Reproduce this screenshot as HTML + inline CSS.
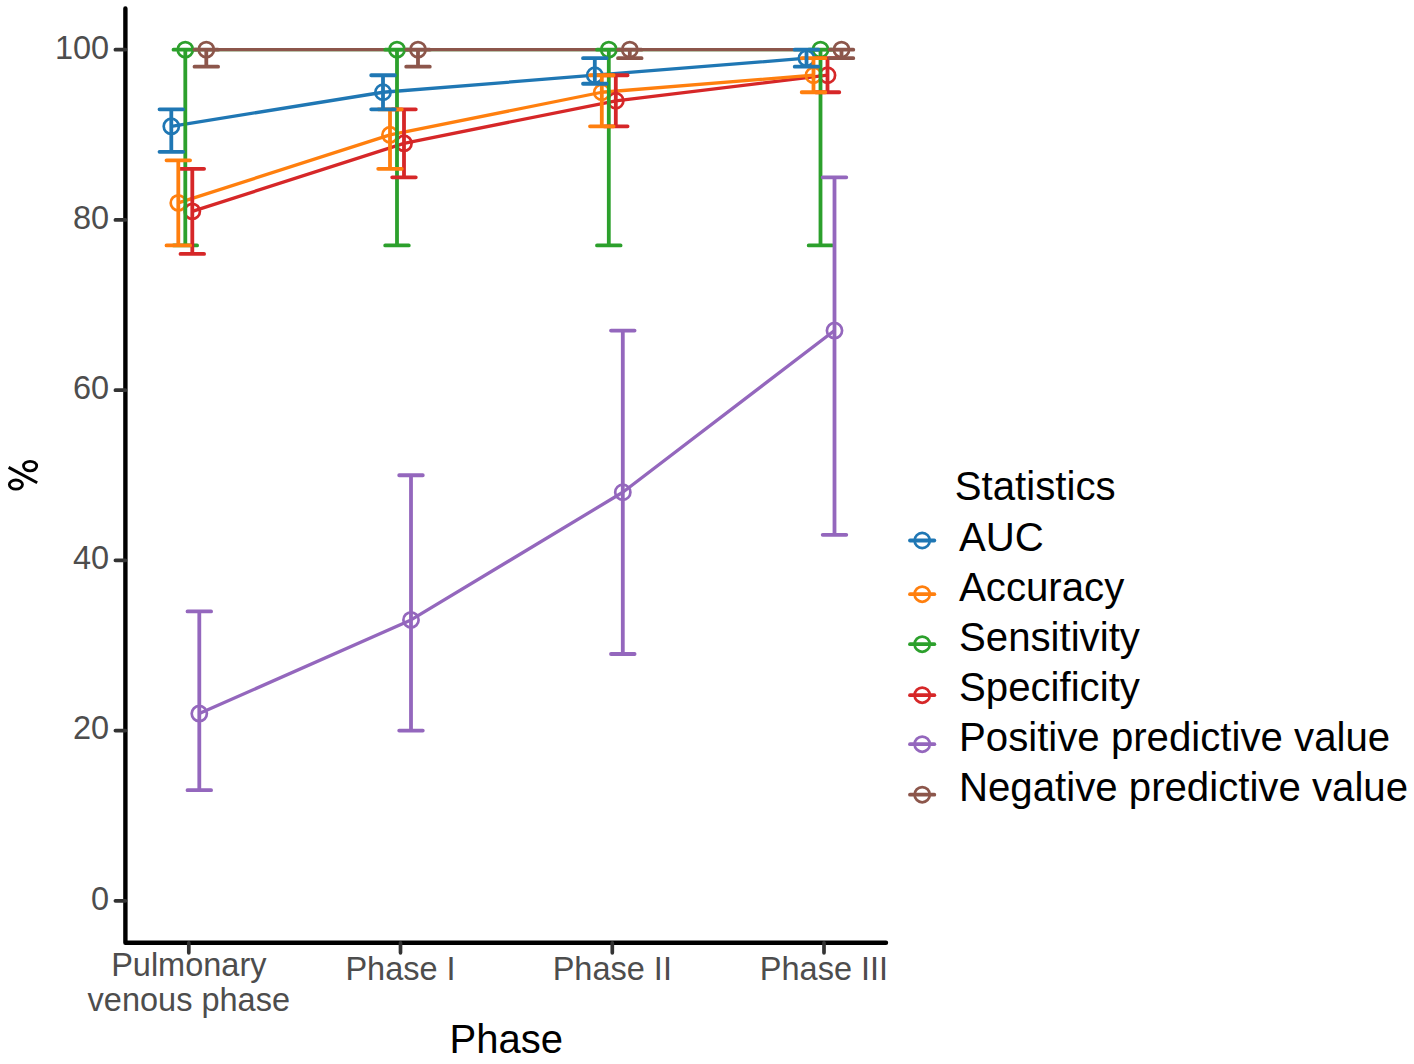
<!DOCTYPE html>
<html><head><meta charset="utf-8"><style>
html,body{margin:0;padding:0;background:#fff;}
body{width:1414px;height:1064px;overflow:hidden;}
svg{display:block;}
text{font-family:"Liberation Sans",sans-serif;}
.tk{font-size:32.5px;fill:#4D4D4D;}
.ti{font-size:40px;fill:#000;}
.lt{font-size:40.2px;fill:#000;}
.ll{font-size:40.2px;fill:#000;}
</style></head><body>
<svg width="1414" height="1064" viewBox="0 0 1414 1064">
<rect width="1414" height="1064" fill="#fff"/>
<g>
<path d="M125.4 8.5V942.8H886" fill="none" stroke="#000" stroke-width="4.4" stroke-linecap="round" stroke-linejoin="round"/>
<path d="M115.4 900.8H125.4M115.4 730.58H125.4M115.4 560.36H125.4M115.4 390.14H125.4M115.4 219.92H125.4M115.4 49.7H125.4M188.8 942.8V952.8M400.5 942.8V952.8M612.3 942.8V952.8M824 942.8V952.8" fill="none" stroke="#333" stroke-width="3.7" stroke-linecap="round"/>
<polyline points="185.3,49.7 397,49.7 608.8,49.7 820.5,49.7" fill="none" stroke="#2CA02C" stroke-width="3.3" stroke-linejoin="round" stroke-linecap="butt"/>
<polyline points="192.3,211.41 404,143.32 615.8,100.77 827.5,75.23" fill="none" stroke="#D62728" stroke-width="3.3" stroke-linejoin="round" stroke-linecap="butt"/>
<polyline points="199.3,713.56 411,619.94 622.8,492.27 834.5,330.56" fill="none" stroke="#9467BD" stroke-width="3.3" stroke-linejoin="round" stroke-linecap="butt"/>
<polyline points="206.3,49.7 418,49.7 629.8,49.7 841.5,49.7" fill="none" stroke="#8C564B" stroke-width="3.3" stroke-linejoin="round" stroke-linecap="butt"/>
<polyline points="178.3,202.9 390,134.81 601.8,92.25 813.5,75.23" fill="none" stroke="#FF7F0E" stroke-width="3.3" stroke-linejoin="round" stroke-linecap="butt"/>
<polyline points="171.3,126.3 383,92.25 594.8,75.23 806.5,58.21" fill="none" stroke="#1F77B4" stroke-width="3.3" stroke-linejoin="round" stroke-linecap="butt"/>
<circle cx="185.3" cy="49.7" r="7.6" fill="none" stroke="#2CA02C" stroke-width="2.7"/>
<circle cx="397" cy="49.7" r="7.6" fill="none" stroke="#2CA02C" stroke-width="2.7"/>
<circle cx="608.8" cy="49.7" r="7.6" fill="none" stroke="#2CA02C" stroke-width="2.7"/>
<circle cx="820.5" cy="49.7" r="7.6" fill="none" stroke="#2CA02C" stroke-width="2.7"/>
<circle cx="192.3" cy="211.41" r="7.6" fill="none" stroke="#D62728" stroke-width="2.7"/>
<circle cx="404" cy="143.32" r="7.6" fill="none" stroke="#D62728" stroke-width="2.7"/>
<circle cx="615.8" cy="100.77" r="7.6" fill="none" stroke="#D62728" stroke-width="2.7"/>
<circle cx="827.5" cy="75.23" r="7.6" fill="none" stroke="#D62728" stroke-width="2.7"/>
<circle cx="199.3" cy="713.56" r="7.6" fill="none" stroke="#9467BD" stroke-width="2.7"/>
<circle cx="411" cy="619.94" r="7.6" fill="none" stroke="#9467BD" stroke-width="2.7"/>
<circle cx="622.8" cy="492.27" r="7.6" fill="none" stroke="#9467BD" stroke-width="2.7"/>
<circle cx="834.5" cy="330.56" r="7.6" fill="none" stroke="#9467BD" stroke-width="2.7"/>
<circle cx="206.3" cy="49.7" r="7.6" fill="none" stroke="#8C564B" stroke-width="2.7"/>
<circle cx="418" cy="49.7" r="7.6" fill="none" stroke="#8C564B" stroke-width="2.7"/>
<circle cx="629.8" cy="49.7" r="7.6" fill="none" stroke="#8C564B" stroke-width="2.7"/>
<circle cx="841.5" cy="49.7" r="7.6" fill="none" stroke="#8C564B" stroke-width="2.7"/>
<circle cx="178.3" cy="202.9" r="7.6" fill="none" stroke="#FF7F0E" stroke-width="2.7"/>
<circle cx="390" cy="134.81" r="7.6" fill="none" stroke="#FF7F0E" stroke-width="2.7"/>
<circle cx="601.8" cy="92.25" r="7.6" fill="none" stroke="#FF7F0E" stroke-width="2.7"/>
<circle cx="813.5" cy="75.23" r="7.6" fill="none" stroke="#FF7F0E" stroke-width="2.7"/>
<circle cx="171.3" cy="126.3" r="7.6" fill="none" stroke="#1F77B4" stroke-width="2.7"/>
<circle cx="383" cy="92.25" r="7.6" fill="none" stroke="#1F77B4" stroke-width="2.7"/>
<circle cx="594.8" cy="75.23" r="7.6" fill="none" stroke="#1F77B4" stroke-width="2.7"/>
<circle cx="806.5" cy="58.21" r="7.6" fill="none" stroke="#1F77B4" stroke-width="2.7"/>
<path d="M173.5 49.7H197.1M185.3 49.7V245.45M173.5 245.45H197.1M385.2 49.7H408.8M397 49.7V245.45M385.2 245.45H408.8M597 49.7H620.6M608.8 49.7V245.45M597 245.45H620.6M808.7 49.7H832.3M820.5 49.7V245.45M808.7 245.45H832.3" fill="none" stroke="#2CA02C" stroke-width="3.8" stroke-linecap="round" stroke-linejoin="round"/>
<path d="M180.5 168.85H204.1M192.3 168.85V253.96M180.5 253.96H204.1M392.2 109.28H415.8M404 109.28V177.37M392.2 177.37H415.8M604 75.23H627.6M615.8 75.23V126.3M604 126.3H627.6M815.7 58.21H839.3M827.5 58.21V92.25M815.7 92.25H839.3" fill="none" stroke="#D62728" stroke-width="3.8" stroke-linecap="round" stroke-linejoin="round"/>
<path d="M187.5 611.43H211.1M199.3 611.43V790.16M187.5 790.16H211.1M399.2 475.25H422.8M411 475.25V730.58M399.2 730.58H422.8M611 330.56H634.6M622.8 330.56V653.98M611 653.98H634.6M822.7 177.37H846.3M834.5 177.37V534.83M822.7 534.83H846.3" fill="none" stroke="#9467BD" stroke-width="3.8" stroke-linecap="round" stroke-linejoin="round"/>
<path d="M194.5 49.7H218.1M206.3 49.7V66.72M194.5 66.72H218.1M406.2 49.7H429.8M418 49.7V66.72M406.2 66.72H429.8M618 49.7H641.6M629.8 49.7V58.21M618 58.21H641.6M829.7 49.7H853.3M841.5 49.7V58.21M829.7 58.21H853.3" fill="none" stroke="#8C564B" stroke-width="3.8" stroke-linecap="round" stroke-linejoin="round"/>
<path d="M166.5 160.34H190.1M178.3 160.34V245.45M166.5 245.45H190.1M378.2 109.28H401.8M390 109.28V168.85M378.2 168.85H401.8M590 75.23H613.6M601.8 75.23V126.3M590 126.3H613.6M801.7 58.21H825.3M813.5 58.21V92.25M801.7 92.25H825.3" fill="none" stroke="#FF7F0E" stroke-width="3.8" stroke-linecap="round" stroke-linejoin="round"/>
<path d="M159.5 109.28H183.1M171.3 109.28V151.83M159.5 151.83H183.1M371.2 75.23H394.8M383 75.23V109.28M371.2 109.28H394.8M583 58.21H606.6M594.8 58.21V83.74M583 83.74H606.6M794.7 49.7H818.3M806.5 49.7V66.72M794.7 66.72H818.3" fill="none" stroke="#1F77B4" stroke-width="3.8" stroke-linecap="round" stroke-linejoin="round"/>
<text x="109.2" y="909.7" text-anchor="end" class="tk">0</text>
<text x="109.2" y="739.48" text-anchor="end" class="tk">20</text>
<text x="109.2" y="569.26" text-anchor="end" class="tk">40</text>
<text x="109.2" y="399.04" text-anchor="end" class="tk">60</text>
<text x="109.2" y="228.82" text-anchor="end" class="tk">80</text>
<text x="109.2" y="58.6" text-anchor="end" class="tk">100</text>
<text x="188.8" y="976.2" text-anchor="middle" class="tk">Pulmonary</text>
<text x="188.8" y="1010.8" text-anchor="middle" class="tk">venous phase</text>
<text x="400.5" y="980" text-anchor="middle" class="tk">Phase I</text>
<text x="612.3" y="980" text-anchor="middle" class="tk">Phase II</text>
<text x="824.0" y="980" text-anchor="middle" class="tk">Phase III</text>
<text x="506.3" y="1053.1" text-anchor="middle" class="ti">Phase</text>
<g stroke="#000" stroke-width="2.8" fill="none"><ellipse cx="30.1" cy="466.1" rx="6.6" ry="4.8"/><ellipse cx="15.9" cy="484.6" rx="6.6" ry="4.6"/><path d="M8.6 467.4L37.2 482.8" stroke-width="2.9"/></g>
<text x="954.8" y="499.5" class="lt">Statistics</text>
<path d="M910 540.5H934.3" stroke="#1F77B4" stroke-width="3.8" stroke-linecap="round"/>
<circle cx="922.2" cy="540.5" r="7.6" fill="none" stroke="#1F77B4" stroke-width="2.7"/>
<text x="959" y="551" class="ll">AUC</text>
<path d="M910 594.2H934.3" stroke="#FF7F0E" stroke-width="3.8" stroke-linecap="round"/>
<circle cx="922.2" cy="594.2" r="7.6" fill="none" stroke="#FF7F0E" stroke-width="2.7"/>
<text x="959" y="600.9" class="ll">Accuracy</text>
<path d="M910 644.2H934.3" stroke="#2CA02C" stroke-width="3.8" stroke-linecap="round"/>
<circle cx="922.2" cy="644.2" r="7.6" fill="none" stroke="#2CA02C" stroke-width="2.7"/>
<text x="959" y="650.8" class="ll">Sensitivity</text>
<path d="M910 695.2H934.3" stroke="#D62728" stroke-width="3.8" stroke-linecap="round"/>
<circle cx="922.2" cy="695.2" r="7.6" fill="none" stroke="#D62728" stroke-width="2.7"/>
<text x="959" y="700.7" class="ll">Specificity</text>
<path d="M910 744.2H934.3" stroke="#9467BD" stroke-width="3.8" stroke-linecap="round"/>
<circle cx="922.2" cy="744.2" r="7.6" fill="none" stroke="#9467BD" stroke-width="2.7"/>
<text x="959" y="750.6" class="ll">Positive predictive value</text>
<path d="M910 794.7H934.3" stroke="#8C564B" stroke-width="3.8" stroke-linecap="round"/>
<circle cx="922.2" cy="794.7" r="7.6" fill="none" stroke="#8C564B" stroke-width="2.7"/>
<text x="959" y="800.5" class="ll">Negative predictive value</text>
</g>
</svg>
</body></html>
